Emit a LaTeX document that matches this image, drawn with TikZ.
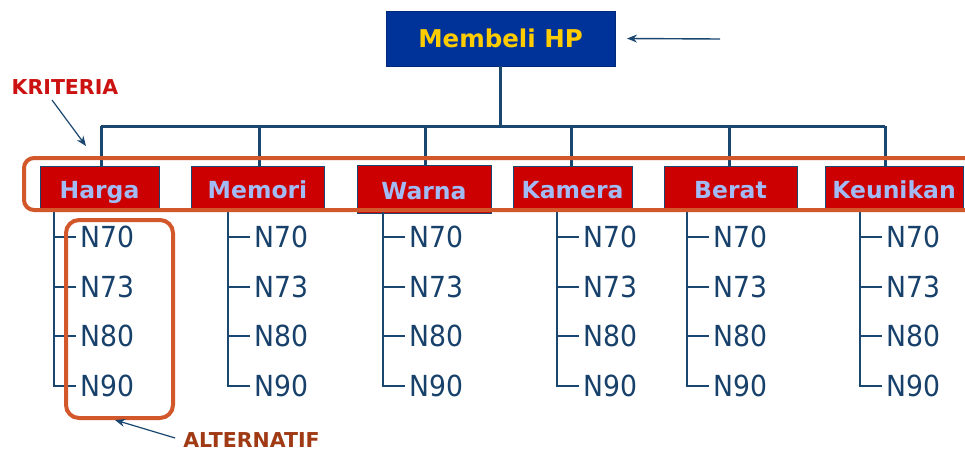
\documentclass[tikz,border=0pt]{standalone}
\usepackage{fontspec}
\setmainfont{DejaVu Sans}
\newfontfamily\altfont[FakeStretch=0.92]{DejaVu Sans}
\usetikzlibrary{arrows.meta}
\definecolor{goalblue}{HTML}{003399}
\definecolor{goalgold}{HTML}{FFCC00}
\definecolor{critred}{HTML}{CC0000}
\definecolor{critlabel}{HTML}{A2BBF5}
\definecolor{treeline}{HTML}{1A4770}
\definecolor{alttext}{HTML}{17406A}
\definecolor{hilite}{HTML}{D2572A}
\definecolor{kritcol}{HTML}{CC1111}
\definecolor{altcol}{HTML}{A03A14}
\tikzset{
  goalbox/.style={fill=goalblue, draw=goalblue!80!black, line width=0.6pt,
    minimum width=229pt, minimum height=55pt, inner sep=0pt,
    text height=18pt, text depth=0pt,
    text=goalgold, font=\fontsize{24.5}{28}\selectfont\bfseries},
  critbox/.style={fill=critred, draw=treeline, line width=0.8pt,
    minimum height=42pt, inner sep=0pt, text height=22pt, text depth=0pt,
    text=critlabel, font=\fontsize{23.5}{27}\selectfont\bfseries},
  alt/.style={anchor=west, inner sep=0pt, text=alttext,
    font=\altfont\fontsize{29}{32}\selectfont},
  bus/.style={draw=treeline, line width=3pt},
  stem/.style={draw=treeline, line width=2.6pt},
  tick/.style={draw=treeline, line width=1.6pt},
  hibox/.style={draw=hilite, line width=4pt, rounded corners=10pt},
  pointer/.style={draw=treeline, line width=1.4pt, -{Stealth[length=10pt,width=8pt]}},
  tag/.style={inner sep=0pt, font=\fontsize{20.5}{24}\selectfont\bfseries}
}
\begin{document}
\begin{tikzpicture}[x=1pt,y=-1pt]
\useasboundingbox[fill=white] (0,0) rectangle (965,453);

% goal
\node[goalbox] (goal) at (500.5,38.5) {Membeli HP};
\coordinate (goaltail) at (720,39);
\draw[pointer] (goaltail) -- (goal.east -| 627,0);

% criteria boxes
\node[critbox, minimum width=119pt] (c1) at (99.5,187) {Harga};
\node[critbox, minimum width=133pt] (c2) at (257.5,187) {Memori};
\node[critbox, minimum width=134pt, minimum height=48pt, text height=20pt] (c3) at (424,189) {Warna};
\node[critbox, minimum width=119pt] (c4) at (572.5,187) {Kamera};
\node[critbox, minimum width=133pt] (c5) at (730.5,187) {Berat};
\node[critbox, minimum width=138pt] (c6) at (894,187) {Keunikan};

% hierarchy bus
\coordinate (b1) at (101,126);
\coordinate (b2) at (259,126);
\coordinate (b3) at (425,126);
\coordinate (b4) at (571,126);
\coordinate (b5) at (729,126);
\coordinate (b6) at (885,126);
\draw[bus] (goal.south) -- (goal.south |- b1);
\draw[bus] (b1) -- (b6);
\foreach \i in {1,...,6} {
  \draw[bus] (b\i) -- (b\i |- c\i.north);
}

% alternatives under each criterion
\foreach \i/\x in {1/54, 2/228, 3/383, 4/557, 5/687, 6/860} {
  \coordinate (s\i) at (\x,210);
  \node[alt] (a\i-1) at (\x+26,237) {N70};
  \node[alt] (a\i-2) at (\x+26,287) {N73};
  \node[alt] (a\i-3) at (\x+26,336) {N80};
  \node[alt] (a\i-4) at (\x+26,386) {N90};
  \draw[stem, line cap=butt] (s\i) |- ([xshift=-4pt]a\i-4.west);
  \foreach \k in {1,2,3} {
    \draw[tick] (s\i |- a\i-\k.west) -- ([xshift=-4pt]a\i-\k.west);
  }
}

% highlight frames
\begin{scope}
  \clip (0,0) rectangle (965,453);
  \draw[hibox] (24,158) rectangle (990,210);
\end{scope}
\draw[hibox, rounded corners=13pt] (66,220) rectangle (173,418);

% annotations
\node[tag, text=kritcol] (krit) at (65,87) {KRITERIA};
\coordinate (kritend) at (86,146);
\draw[pointer, line width=1.2pt] (52,100) -- (kritend);

\node[tag, text=altcol] (altlab) at (251.5,440) {ALTERNATIF};
\coordinate (altend) at (115,420);
\draw[pointer, line width=1.2pt] ([xshift=-8pt,yshift=2pt]altlab.west) -- (altend);
\end{tikzpicture}
\end{document}
